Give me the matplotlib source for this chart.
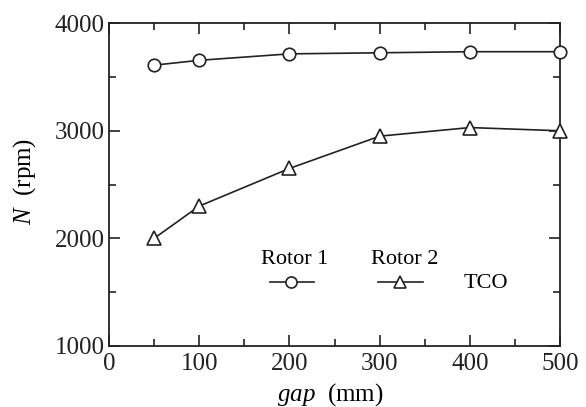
import matplotlib
matplotlib.use('Agg')
import matplotlib.pyplot as plt
from matplotlib.ticker import MultipleLocator

# data
gap = [50, 100, 200, 300, 400, 500]
rotor1 = [3610, 3655, 3715, 3725, 3735, 3735]
rotor2 = [2000, 2300, 2650, 2950, 3030, 3000]

plt.rcParams['font.family'] = 'Liberation Serif'
plt.rcParams['mathtext.fontset'] = 'custom'
plt.rcParams['mathtext.it'] = 'Liberation Serif:italic'
plt.rcParams['mathtext.rm'] = 'Liberation Serif'

fig = plt.figure(figsize=(5.86, 4.07), dpi=100)
ax = fig.add_axes([0.186, 0.150, 0.770, 0.793])

line_kw = dict(color='#222222', lw=1.2, mfc='white', mec='#222222', mew=1.2,
               clip_on=False, zorder=3)
ax.plot(gap, rotor1, marker='o', ms=9, **line_kw)
ax.plot(gap, rotor2, marker='^', ms=10, **line_kw)

ax.set_xlim(0, 500)
ax.set_ylim(1000, 4000)
ax.xaxis.set_major_locator(MultipleLocator(100))
ax.xaxis.set_minor_locator(MultipleLocator(50))
ax.yaxis.set_major_locator(MultipleLocator(1000))
ax.yaxis.set_minor_locator(MultipleLocator(500))
ax.tick_params(which='both', direction='in', top=True, right=True,
               width=1.2, colors='#222222', labelsize=18)
ax.tick_params(axis='x', pad=5)
ax.tick_params(axis='y', pad=3)
ax.tick_params(which='major', length=8)
ax.tick_params(which='minor', length=5)
for sp in ax.spines.values():
    sp.set_linewidth(1.3)
    sp.set_color('#222222')

ax.set_xlabel('$gap$  (mm)', fontsize=18)
ax.xaxis.set_label_coords(0.49, -0.108)
ax.set_ylabel('$N$  (rpm)', fontsize=18)
ax.yaxis.set_label_coords(-0.158, 0.51)

# hand-made legend inside the axes
ax.text(206, 1800, 'Rotor 1', fontsize=16, ha='center', va='center')
ax.plot([178, 227], [1595, 1595], color='#222222', lw=1.2)
ax.plot([202], [1595], marker='o', ms=8, ls='none', mfc='white',
        mec='#222222', mew=1.2)
ax.text(328, 1800, 'Rotor 2', fontsize=16, ha='center', va='center')
ax.plot([298, 348], [1595, 1595], color='#222222', lw=1.2)
ax.plot([323], [1595], marker='^', ms=9, ls='none', mfc='white',
        mec='#222222', mew=1.2)
ax.text(418, 1585, 'TCO', fontsize=16, ha='center', va='center')

fig.savefig('out.png', dpi=100, facecolor='white')
